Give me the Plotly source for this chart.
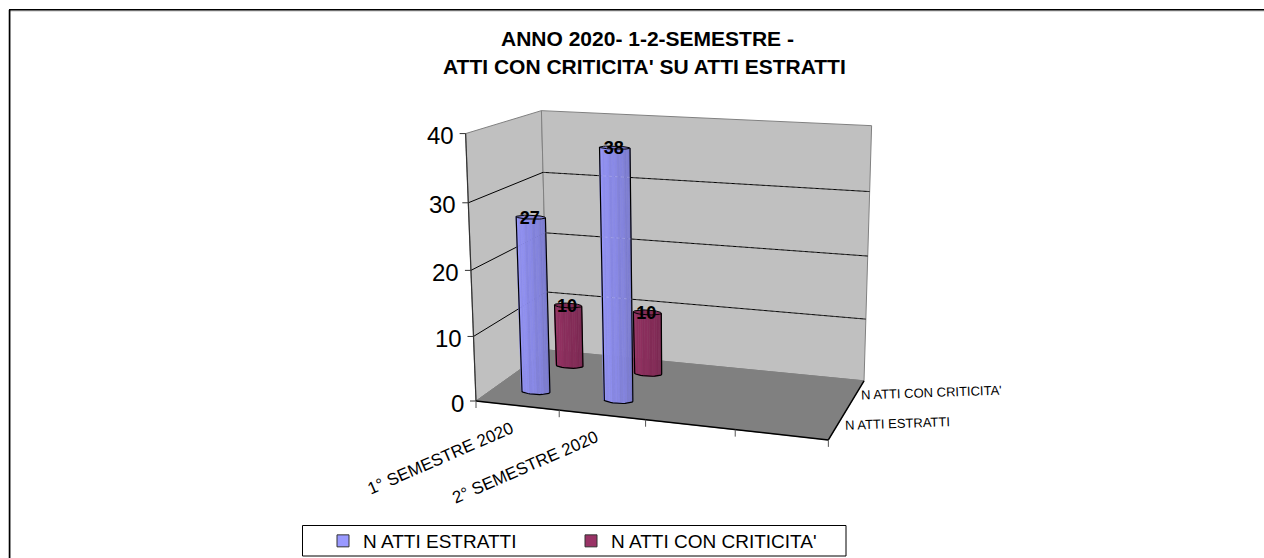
import numpy as np
import plotly.graph_objects as go

# values
categories = ["1° SEMESTRE 2020", "2° SEMESTRE 2020", "", ""]
series_names = ["N ATTI ESTRATTI", "N ATTI CON CRITICITA'"]
estratti = [27, 38]
criticita = [10, 10]
y_ticks = [0, 10, 20, 30, 40]
title_lines = ["ANNO 2020- 1-2-SEMESTRE -", "ATTI CON CRITICITA' SU ATTI ESTRATTI"]

YMAX = 40
BLUE = (153, 153, 255)
WINE = (153, 51, 102)

# box corners (cat, depth, value share) -> where they land in the page, used to fit the camera
CORNERS = [
    ((0, 0, 0), (475.7, 401)), ((1, 0, 0), (828.3, 440)), ((0, 1, 0), (548, 350)),
    ((1, 1, 0), (864, 380.7)), ((0, 0, 1), (466, 133.5)), ((0, 1, 1), (541, 110.7)),
    ((1, 1, 1), (871.7, 125.7)),
]


def fit_camera(pairs):
    rows, rhs = [], []
    for (a, b, c), (px, py) in pairs:
        rows.append([a, b, c, 1, 0, 0, 0, 0, -px * a, -px * b, -px * c])
        rhs.append(px)
        rows.append([0, 0, 0, 0, a, b, c, 1, -py * a, -py * b, -py * c])
        rhs.append(py)
    sol = np.linalg.lstsq(np.array(rows, float), np.array(rhs, float), rcond=None)[0]
    return np.append(sol, 1).reshape(3, 4)


CAM = fit_camera(CORNERS)


def proj(u, v, val):
    """category position (0-1), depth (0-1), value -> page x, y"""
    p = CAM @ np.array([u, v, val / YMAX, 1.0])
    return p[0] / p[2], p[1] / p[2]


def path(pts):
    xs, ys = zip(*[proj(*p) for p in pts])
    return list(xs), list(ys)


fig = go.Figure()


def poly(pts, fill, line=None, width=0):
    xs, ys = path(pts + [pts[0]])
    fig.add_trace(go.Scatter(x=xs, y=ys, mode="lines", fill="toself", fillcolor=fill,
                             line=dict(color=line or fill, width=width), showlegend=False, hoverinfo="skip"))


def seg(a, b, color, width=1, dash=None):
    xs, ys = path([a, b])
    fig.add_trace(go.Scatter(x=xs, y=ys, mode="lines", line=dict(color=color, width=width, dash=dash),
                             showlegend=False, hoverinfo="skip"))


# walls and floor
poly([(0, 0, 0), (0, 1, 0), (0, 1, YMAX), (0, 0, YMAX)], "#c0c0c0", "#808080", 1)
poly([(0, 1, 0), (1, 1, 0), (1, 1, YMAX), (0, 1, YMAX)], "#c0c0c0", "#808080", 1)
poly([(0, 0, 0), (1, 0, 0), (1, 1, 0), (0, 1, 0)], "#808080", "#808080", 1)

# gridlines
for t in y_ticks[1:-1]:
    seg((0, 0, t), (0, 1, t), "black")
    seg((0, 1, t), (1, 1, t), "black")

# axis lines and ticks
seg((0, 0, 0), (0, 0, YMAX), "#333333", 1.2)
seg((0, 0, 0), (1, 0, 0), "black", 1.5)
seg((1, 0, 0), (1, 1, 0), "black", 1.5)
for t in y_ticks:
    x, y = proj(0, 0, t)
    fig.add_trace(go.Scatter(x=[x - 6, x], y=[y, y], mode="lines", line=dict(color="#333333", width=1),
                             showlegend=False, hoverinfo="skip"))
    fig.add_annotation(x=x - 10, y=y + 2, text=str(t), showarrow=False, xanchor="right",
                       font=dict(size=24, color="black"))
for i in range(len(categories) + 1):
    x, y = proj(i / len(categories), 0, 0)
    fig.add_trace(go.Scatter(x=[x, x], y=[y, y + 7], mode="lines", line=dict(color="#555555", width=1),
                             showlegend=False, hoverinfo="skip"))


def cylinder(u, v, val, rgb):
    """one cylinder: shaded strips on the visible half, flat top, black outline"""
    ru, rv = 0.0425, 0.05
    ring = np.linspace(np.pi * 1.06, np.pi * 2.06, 19)
    for k in range(len(ring) - 1):
        t0, t1 = ring[k], ring[k + 1]
        s = 1.0 - 0.2 * k / (len(ring) - 2) - (0.03 if k % 3 == 1 else 0)
        col = "rgb(%d,%d,%d)" % tuple(int(c * s) for c in rgb)
        poly([(u + ru * np.cos(t0), v + rv * np.sin(t0), 0), (u + ru * np.cos(t1), v + rv * np.sin(t1), 0),
              (u + ru * np.cos(t1), v + rv * np.sin(t1), val), (u + ru * np.cos(t0), v + rv * np.sin(t0), val)],
             col, col, 0.6)
    top = np.linspace(0, 2 * np.pi, 37)
    poly([(u + ru * np.cos(t), v + rv * np.sin(t), val) for t in top],
         "rgb(%d,%d,%d)" % tuple(int(c * 0.85) for c in rgb), "black", 1)
    xs, ys = path([(u + ru * np.cos(t), v + rv * np.sin(t), 0) for t in ring])
    a0 = path([(u + ru * np.cos(ring[0]), v + rv * np.sin(ring[0]), val)])
    a1 = path([(u + ru * np.cos(ring[-1]), v + rv * np.sin(ring[-1]), val)])
    fig.add_trace(go.Scatter(x=a0[0] + xs + a1[0], y=a0[1] + ys + a1[1], mode="lines",
                             line=dict(color="black", width=1.2), showlegend=False, hoverinfo="skip"))


# back to front so the nearer ones cover the others
n_cat = len(categories)
for v, vals, rgb in [(0.75, criticita, WINE), (0.25, estratti, BLUE)]:
    for i, val in enumerate(vals):
        cylinder((i + 0.5) / n_cat, v, val, rgb)

# the back gridlines show faintly through the cylinders
for t in y_ticks[1:-1]:
    seg((0, 1, t), (1, 1, t), "rgba(255,255,255,0.2)", 1, "dot")

# data labels
for v, vals in [(0.75, criticita), (0.25, estratti)]:
    pts = [proj((i + 0.5) / n_cat, v, val) for i, val in enumerate(vals)]
    fig.add_trace(go.Scatter(x=[p[0] - 1 for p in pts], y=[p[1] + 2 for p in pts], mode="text",
                             text=[str(val) for val in vals], textposition="middle center",
                             textfont=dict(size=18, color="black", family="Liberation Sans", weight="bold"),
                             showlegend=False, hoverinfo="skip"))

# category labels, slanted below the front edge
for i, name in enumerate(categories):
    if name:
        x, y = proj((i + 0.5) / n_cat, 0, 0)
        fig.add_annotation(x=x - 77, y=y + 53, text=name, showarrow=False, textangle=-23.5,
                           font=dict(size=17, color="black"))

# depth axis labels
for v, name, dx, dy in [(0.25, series_names[0], 59, -6), (0.75, series_names[1], 76, -8)]:
    x, y = proj(1, v, 0)
    fig.add_annotation(x=x + dx, y=y + dy + 6, text=name, showarrow=False, textangle=-2,
                       font=dict(size=13, color="black"))

# title
fig.add_annotation(x=647, y=38, text="<b>%s</b>" % title_lines[0], showarrow=False, font=dict(size=21, color="black"))
fig.add_annotation(x=644, y=66, text="<b>%s</b>" % title_lines[1], showarrow=False, font=dict(size=21, color="black"))

# legend entries
for name, rgb in zip(series_names, [BLUE, WINE]):
    fig.add_trace(go.Scatter(x=[None], y=[None], mode="markers", name=name,
                             marker=dict(symbol="square", size=12, color="rgb(%d,%d,%d)" % rgb,
                                         line=dict(color="#333333", width=1))))

# taller than the window so the legend does not push the margins; the page clips the rest
H = 620
fig.update_layout(
    width=1264, height=H,
    margin=dict(l=0, r=0, t=0, b=0),
    paper_bgcolor="white", plot_bgcolor="white",
    font=dict(family="Liberation Sans", color="black"),
    xaxis=dict(range=[0, 1264], visible=False, fixedrange=True),
    yaxis=dict(range=[H, 0], visible=False, fixedrange=True),
    legend=dict(orientation="h", x=323 / 1264, y=1 - 522 / H, xanchor="left", yanchor="top",
                entrywidth=203, entrywidthmode="pixels", itemclick=False, itemdoubleclick=False,
                bgcolor="rgba(0,0,0,0)", font=dict(size=19, color="black")),
    shapes=[
        dict(type="rect", x0=302.5, x1=846, y0=525.5, y1=556, line=dict(color="black", width=1)),
        dict(type="line", x0=9, x1=1264, y0=11, y1=11, line=dict(color="#c0c0c0", width=1)),
        dict(type="line", x0=8.5, x1=8.5, y0=10, y1=H, line=dict(color="#c0c0c0", width=1)),
        dict(type="line", x0=9, x1=1264, y0=9.7, y1=9.7, line=dict(color="black", width=1.5)),
        dict(type="line", x0=9.7, x1=9.7, y0=9, y1=H, line=dict(color="black", width=1.5)),
    ],
)

fig.write_html("out.html", config={"displayModeBar": False},
               post_script="document.body.style.margin='0';document.body.style.overflow='hidden';")
